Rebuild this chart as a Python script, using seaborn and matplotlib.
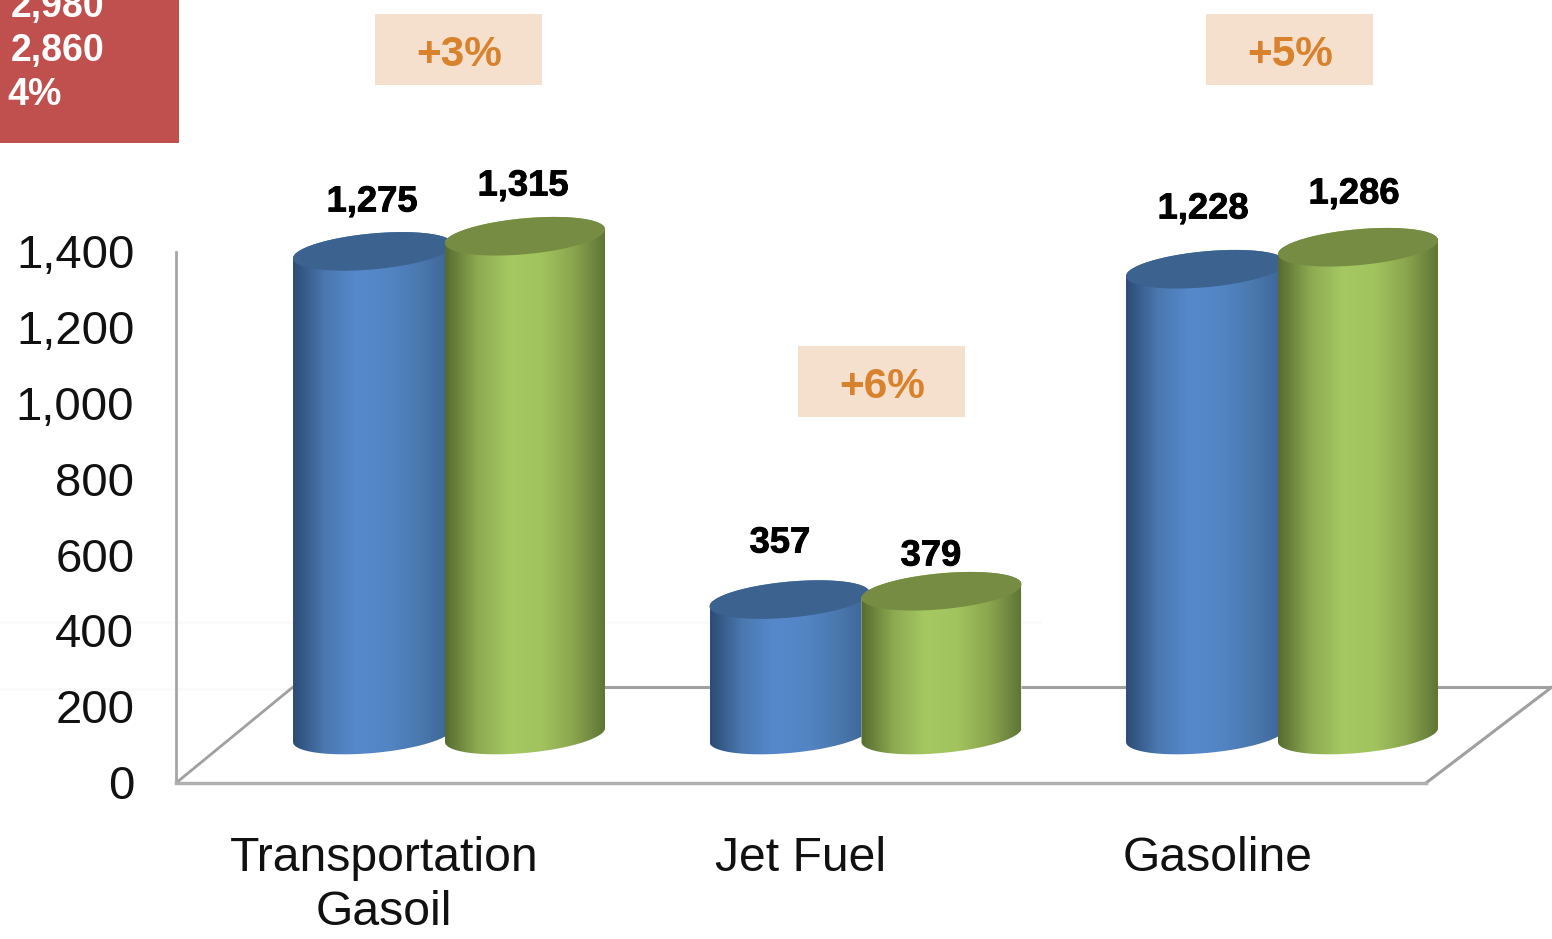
import numpy as np
import pandas as pd
import matplotlib
matplotlib.use('Agg')
import matplotlib.pyplot as plt
import matplotlib.patheffects as pe
from matplotlib.colors import LinearSegmentedColormap
from matplotlib.patches import Rectangle, Polygon
from matplotlib.transforms import ScaledTranslation
import seaborn as sns

# values
products = ['Transportation\nGasoil', 'Jet Fuel', 'Gasoline']
prior_values = [1275, 357, 1228]
current_values = [1315, 379, 1286]
y_ticks = [0, 200, 400, 600, 800, 1000, 1200, 1400]
total_lines = ['2,980', '2,860', '4%']
change_labels = ['+3%', '+6%', '+5%']

W, H = 1552, 939
PX_PER_UNIT = 531 / 1400  # axis runs 783 -> 252 px for 0 -> 1400
BAR_BASE_PX = 735

BLUE = LinearSegmentedColormap.from_list('blue', ['#2c4c75', '#4a78af', '#5689cc', '#5385c5', '#4a78ae', '#3a6496'])
GREEN = LinearSegmentedColormap.from_list('green', ['#566b30', '#8ca950', '#a5c862', '#a2c45e', '#8ba64f', '#5f7535'])
BLUE_TOP = '#3c628f'
GREEN_TOP = '#778c43'


def cylinder(x0, x1, top):
    """Outline of the side wall and of the top cap, in data units."""
    cx, a = (x0 + x1) / 2, (x1 - x0) / 2
    shear, b = 7 / PX_PER_UNIT, 18 / PX_PER_UNIT
    t = np.linspace(0, 2 * np.pi, 181)
    cap = np.c_[cx + a * np.cos(t), top + shear * np.cos(t) + b * np.sin(t)]
    low = np.linspace(np.pi, 2 * np.pi, 91)
    bottom = np.c_[cx + a * np.cos(low), shear * np.cos(low) + b * np.sin(low)]
    up = np.linspace(0, np.pi, 91)
    upper = np.c_[cx + a * np.cos(up), top + shear * np.cos(up) + b * np.sin(up)]
    return np.vstack([bottom, upper]), cap


sns.set_theme(style='white')
plt.rcParams['font.family'] = ['Liberation Sans', 'DejaVu Sans']
fig = plt.figure(figsize=(W / 100, H / 100), dpi=100, facecolor='white')

# pixel layer: floor, boxes and labels
ax_px = fig.add_axes([0, 0, 1, 1])
ax_px.set_xlim(0, W)
ax_px.set_ylim(H, 0)
ax_px.set_axis_off()
ax_px.plot([0, 1040], [622, 622], color='#fafafa', lw=2)
ax_px.plot([0, 293], [689, 689], color='#fafafa', lw=2)
ax_px.plot([176, 293], [783, 687], color='#a0a0a0', lw=2)
ax_px.plot([293, 1552], [687, 687], color='#a0a0a0', lw=2.2)
ax_px.plot([1426, 1552], [783, 687], color='#a0a0a0', lw=2.2)

ax_px.add_patch(Rectangle((0, 0), 179, 143, color='#c0504d', lw=0))
for txt, x, y in zip(total_lines, [11, 11, 7], [7, 51, 95]):
    ax_px.text(x, y, txt, color='white', fontsize=27, fontweight='bold', ha='left', va='center')

for txt, x, y in zip(change_labels, [375, 798, 1206], [14, 346, 14]):
    ax_px.add_patch(Rectangle((x, y), 167, 71, color='#f5e0ce', lw=0))
    ax_px.text(x + 84, y + 41, txt, color='#d8822e', fontsize=30.5, fontweight='bold', ha='center', va='center')

label_x = [372, 780, 1203, 523, 931, 1354]
label_y = [202, 543, 209, 186, 556, 194]
stroke = [pe.withStroke(linewidth=0.6, foreground='black')]
for v, x, y in zip(prior_values + current_values, label_x, label_y):
    ax_px.text(x, y, f'{v:,}', color='black', fontsize=26.2, fontweight='bold', ha='center', va='center',
               path_effects=stroke)

# value axis and category labels
ax_axis = fig.add_axes([176 / W, 1 - 783 / H, 1250 / W, 531 / H])
ax_axis.set_xlim(-0.5, 2.5)
ax_axis.set_ylim(0, 1400)
ax_axis.set_yticks(y_ticks)
ax_axis.set_yticklabels([f'{v:,}' for v in y_ticks], fontsize=34, color='#111111')
ax_axis.set_xticks(range(len(products)))
ax_axis.set_xticklabels(products, fontsize=34.7, color='#111111', linespacing=1.27)
ax_axis.tick_params(axis='y', length=0, pad=30)
ax_axis.tick_params(axis='x', length=0, pad=38)
nudge = ScaledTranslation(0, -3 / 72, fig.dpi_scale_trans)
for lab in ax_axis.get_yticklabels():
    lab.set_verticalalignment('center')
    lab.set_transform(lab.get_transform() + nudge)
sns.despine(ax=ax_axis)
ax_axis.spines['left'].set(color='#a6a6a6', linewidth=2)
ax_axis.spines['bottom'].set(color='#b0b0b0', linewidth=2.5)
ax_axis.patch.set_alpha(0)

# bars, y in real units, base lifted onto the floor
ax = fig.add_axes([0, 0, 1, 1])
df = pd.DataFrame({
    'product': products * 2,
    'year': ['prior'] * 3 + ['current'] * 3,
    'volume': prior_values + current_values,
})
sns.barplot(data=df, x='product', y='volume', hue='year', hue_order=['prior', 'current'],
            palette=['#5588cb', '#a4c75f'], width=0.749, legend=False, ax=ax)
spacing = 416.5
ax.set_axis_off()

overlap = 4 / spacing
for i, bar in enumerate(ax.patches):
    is_green = i >= len(products)
    x0, w, top = bar.get_x(), bar.get_width(), bar.get_height()
    x0 = x0 - overlap if is_green else x0
    x1 = x0 + w + overlap
    bar.set_x(x0)
    bar.set_width(x1 - x0)
    z = 5 if is_green else 3
    bar.set_zorder(z)

    wall, cap = cylinder(x0, x1, top)
    wall_patch = Polygon(wall, closed=True, transform=ax.transData, fc='none', ec='none')
    ax.add_patch(wall_patch)
    bar.set_clip_path(wall_patch)
    img = ax.imshow(np.linspace(0, 1, 256)[None, :], cmap=GREEN if is_green else BLUE,
                    extent=[x0, x1, -100, top + 100], aspect='auto', zorder=z + 0.1)
    img.set_clip_path(wall_patch)
    ax.add_patch(Polygon(cap, closed=True, fc=GREEN_TOP if is_green else BLUE_TOP, ec='none', zorder=z + 0.2))

ax.set_xlim(-449 / spacing, (W - 449) / spacing)
ax.set_ylim((BAR_BASE_PX - H) / PX_PER_UNIT, BAR_BASE_PX / PX_PER_UNIT)

fig.savefig('out.png', dpi=100)
